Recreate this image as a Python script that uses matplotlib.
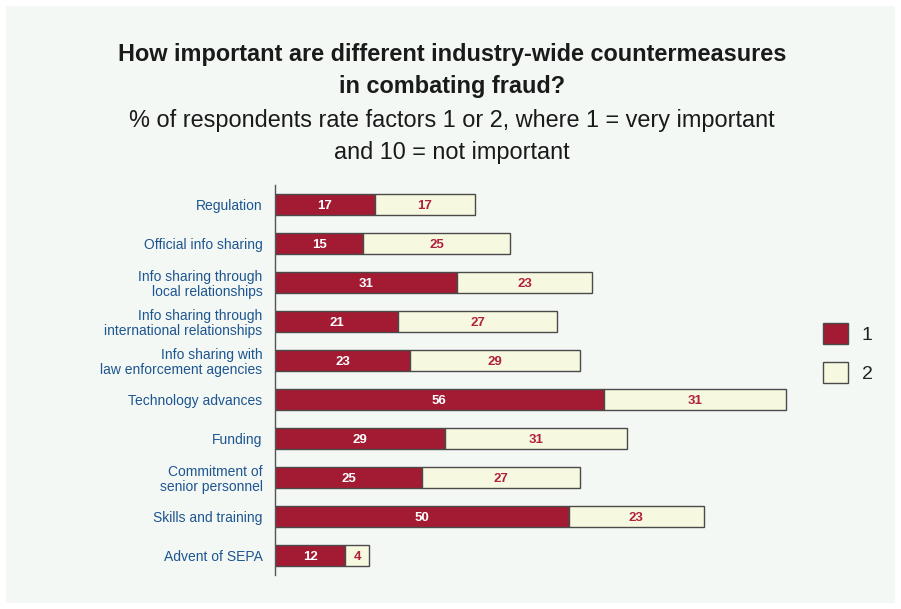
import matplotlib.pyplot as plt
from matplotlib.patches import Rectangle, Patch

plt.rcParams['font.family'] = ['Liberation Sans', 'DejaVu Sans']

# survey data ------------------------------------------------------------
categories = [
    "Regulation",
    "Official info sharing",
    "Info sharing through\nlocal relationships",
    "Info sharing through\ninternational relationships",
    "Info sharing with\nlaw enforcement agencies",
    "Technology advances",
    "Funding",
    "Commitment of\nsenior personnel",
    "Skills and training",
    "Advent of SEPA",
]
rated_1 = [17, 15, 31, 21, 23, 56, 29, 25, 50, 12]
rated_2 = [17, 25, 23, 27, 29, 31, 31, 27, 23, 4]

title_lines = ["How important are different industry-wide countermeasures",
               "in combating fraud?"]
subtitle_lines = ["% of respondents rate factors 1 or 2, where 1 = very important",
                  "and 10 = not important"]

red = "#a31b33"
cream = "#f6f8df"
edge = "#4a4a4a"
blue = "#1d5590"
panel = "#f4f8f5"

fig = plt.figure(figsize=(9.01, 6.09), dpi=100)
fig.patch.set_facecolor("white")

# light panel behind everything
fig.patches.append(Rectangle((6 / 901, 6 / 609), 889 / 901, 597 / 609,
                             transform=fig.transFigure, facecolor=panel,
                             edgecolor="none", zorder=-10))

for txt, ypx in zip(title_lines, [55, 87]):
    fig.text(0.502, 1 - ypx / 609, txt, ha="center", va="center",
             fontsize=16.9, fontweight="bold", color="#1a1a1a")
for txt, ypx in zip(subtitle_lines, [120, 152]):
    fig.text(0.502, 1 - ypx / 609, txt, ha="center", va="center",
             fontsize=16.9, color="#1a1a1a")

ax = fig.add_axes([275 / 901, 34 / 609, 587 / 901, 390 / 609])
ax.set_facecolor("none")

pos = list(range(len(categories)))
ax.barh(pos, rated_1, height=0.56, color=red, edgecolor=edge, linewidth=1)
ax.barh(pos, rated_2, left=rated_1, height=0.56, color=cream, edgecolor=edge, linewidth=1)

for y, a, b in zip(pos, rated_1, rated_2):
    ax.text(a / 2, y, str(a), ha="center", va="center_baseline", color="white",
            fontsize=9.5, fontweight="bold")
    ax.text(a + b / 2, y, str(b), ha="center", va="center_baseline", color="#b0223c",
            fontsize=9.5, fontweight="bold")

ax.set_xlim(0, 100)
ax.set_ylim(9.5, -0.5)
ax.set_yticks(pos)
ax.set_yticklabels(categories, color=blue, fontsize=10.0, linespacing=1.12)
ax.tick_params(axis="y", length=0, pad=9)
ax.set_xticks([])
for side in ["top", "right", "bottom"]:
    ax.spines[side].set_visible(False)
ax.spines["left"].set_color("#555555")
ax.spines["left"].set_linewidth(1)

handles = [Patch(facecolor=red, edgecolor=edge, label="1"),
           Patch(facecolor=cream, edgecolor=edge, label="2")]
fig.legend(handles=handles, loc="upper left", bbox_to_anchor=(823 / 901, 1 - 323 / 609),
           frameon=False, fontsize=14, handlelength=1.29, handleheight=1.3,
           handletextpad=0.7, labelspacing=0.9, borderpad=0, borderaxespad=0,
           labelcolor="#222222")

fig.savefig("out.png", dpi=100, facecolor=fig.get_facecolor())
